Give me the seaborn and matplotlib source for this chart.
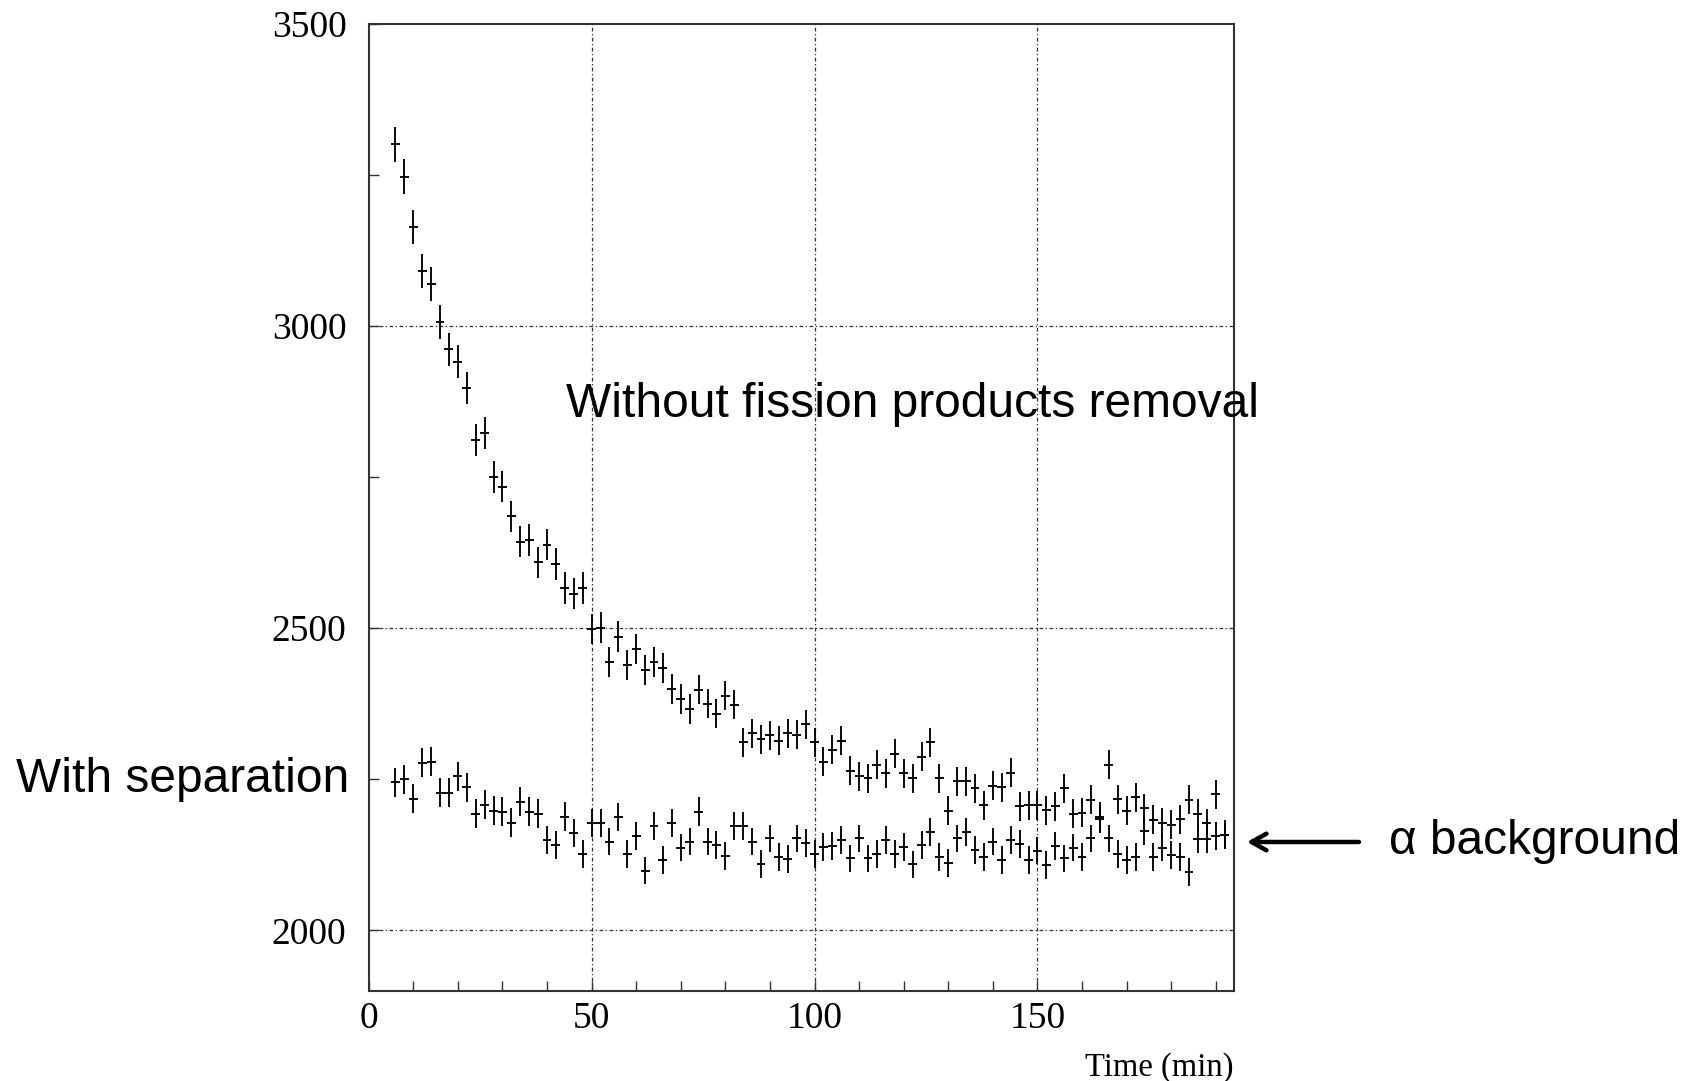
import numpy as np
import pandas as pd
import matplotlib
matplotlib.use("Agg")
import matplotlib.pyplot as plt
from matplotlib.ticker import MultipleLocator
import seaborn as sns

# bin centres (min), 2 min bins
time_min = [
    6, 8, 10, 12, 14, 16, 18, 20, 22, 24, 26, 28, 30, 32, 34, 36, 38, 40, 42, 44,
    46, 48, 50, 52, 54, 56, 58, 60, 62, 64, 66, 68, 70, 72, 74, 76, 78, 80, 82, 84,
    86, 88, 90, 92, 94, 96, 98, 100, 102, 104, 106, 108, 110, 112, 114, 116, 118, 120, 122, 124,
    126, 128, 130, 132, 134, 136, 138, 140, 142, 144, 146, 148, 150, 152, 154, 156, 158, 160, 162, 164,
    166, 168, 170, 172, 174, 176, 178, 180, 182, 184, 186, 188, 190, 192,
]

# counts without fission products removal
no_removal = [
    3300, 3247, 3163, 3091, 3069, 3007, 2961, 2941, 2897, 2811, 2823, 2750, 2734, 2685, 2643, 2646, 2609, 2638, 2606, 2566,
    2557, 2566, 2499, 2501, 2444, 2486, 2439, 2466, 2431, 2444, 2434, 2399, 2383, 2366, 2398, 2375, 2358, 2388, 2373, 2311,
    2326, 2316, 2323, 2314, 2326, 2324, 2341, 2311, 2279, 2299, 2314, 2264, 2255, 2252, 2274, 2260, 2292, 2260, 2252, 2287,
    2311, 2252, 2198, 2247, 2247, 2235, 2207, 2239, 2237, 2261, 2205, 2207, 2207, 2199, 2205, 2235, 2193, 2195, 2216, 2188,
    2274, 2217, 2198, 2220, 2202, 2183, 2178, 2175, 2184, 2216, 2193, 2177, 2225, 2158,
]
no_removal_err = [
    29, 29, 28, 28, 28, 28, 27, 27, 27, 27, 27, 26, 26, 26, 26, 26, 26, 26, 26, 26,
    26, 26, 25, 25, 25, 25, 25, 25, 25, 25, 25, 25, 25, 25, 24, 24, 24, 24, 24, 24,
    24, 24, 24, 24, 24, 24, 24, 24, 24, 24, 24, 24, 24, 24, 24, 24, 24, 24, 24, 24,
    24, 24, 24, 24, 24, 24, 24, 24, 24, 24, 24, 24, 24, 24, 24, 24, 24, 24, 24, 24,
    24, 24, 24, 24, 24, 24, 24, 24, 24, 24, 24, 24, 24, 24,
]

# counts with separation
with_sep = [
    2245, 2250, 2218, 2277, 2279, 2228, 2228, 2255, 2237, 2193, 2208, 2198, 2196, 2178, 2213, 2196, 2193, 2150, 2141, 2188,
    2161, 2127, 2178, 2178, 2147, 2188, 2127, 2156, 2099, 2173, 2117, 2178, 2137, 2147, 2196, 2147, 2141, 2123, 2173, 2173,
    2147, 2110, 2152, 2122, 2118, 2152, 2144, 2127, 2138, 2139, 2149, 2119, 2152, 2119, 2127, 2150, 2127, 2138, 2109, 2141,
    2163, 2122, 2111, 2152, 2163, 2133, 2122, 2147, 2117, 2149, 2143, 2117, 2132, 2108, 2139, 2119, 2137, 2122, 2152, 2184,
    2152, 2127, 2117, 2122, 2164, 2122, 2137, 2125, 2122, 2097, 2151, 2151, 2156, 2158,
]
with_sep_err = [
    24, 24, 24, 24, 24, 24, 24, 24, 24, 24, 24, 24, 24, 24, 24, 24, 24, 23, 23, 24,
    23, 23, 23, 23, 23, 23, 23, 23, 23, 23, 23, 23, 23, 23, 24, 23, 23, 23, 23, 23,
    23, 23, 23, 23, 23, 23, 23, 23, 23, 23, 23, 23, 23, 23, 23, 23, 23, 23, 23, 23,
    23, 23, 23, 23, 23, 23, 23, 23, 23, 23, 23, 23, 23, 23, 23, 23, 23, 23, 23, 23,
    23, 23, 23, 23, 23, 23, 23, 23, 23, 23, 23, 23, 23, 23,
]

df = pd.concat([
    pd.DataFrame({"time": time_min, "counts": no_removal, "err": no_removal_err, "run": "no_removal"}),
    pd.DataFrame({"time": time_min, "counts": with_sep, "err": with_sep_err, "run": "with_sep"}),
])

sns.set_theme(style="ticks")
plt.rcParams["font.family"] = ["Liberation Serif", "DejaVu Serif"]
plt.rcParams["text.color"] = "black"
plt.rcParams["axes.labelcolor"] = "black"
plt.rcParams["xtick.color"] = "black"
plt.rcParams["ytick.color"] = "black"

fig = plt.figure(figsize=(16.85, 10.81), dpi=100)
ax = fig.add_axes([0.2188, 0.0834, 0.5133, 0.8948])

# crosses: 2 min bin width, statistical error in y
for run, d in df.groupby("run"):
    ax.errorbar(d["time"], d["counts"], xerr=1, yerr=d["err"], fmt="none",
                ecolor="black", elinewidth=1.35, capsize=0)

ax.set_xlim(0, 194)
ax.set_ylim(1900, 3500)
ax.xaxis.set_major_locator(MultipleLocator(50))
ax.xaxis.set_minor_locator(MultipleLocator(10))
ax.yaxis.set_major_locator(MultipleLocator(500))
ax.yaxis.set_minor_locator(MultipleLocator(250))
ax.tick_params(which="both", direction="in", length=7, width=1.0, color="#333333",
               top=False, right=False)
ax.tick_params(axis="x", which="major", labelsize=27, pad=8)
ax.tick_params(axis="y", which="major", labelsize=27, pad=16)

# dash-dot grid at the labelled values
for xv in [50, 100, 150]:
    ax.axvline(xv, color="#333333", lw=0.9, ls=(0, (3, 2, 1, 2)), zorder=0)
for yv in [2000, 2500, 3000]:
    ax.axhline(yv, color="#333333", lw=0.9, ls=(0, (3, 2, 1, 2)), zorder=0)

for s in ax.spines.values():
    s.set_visible(True)
    s.set_color("#333333")
    s.set_linewidth(1.5)

fig.text(0.7321, 0.0046, "Time (min)", ha="right", va="baseline", fontsize=23.5)

sans = ["Liberation Sans", "DejaVu Sans"]
fig.text(0.3359, 0.6142, "Without fission products removal", fontsize=34.5,
         family=sans, ha="left", va="baseline")
fig.text(0.0095, 0.2673, "With separation", fontsize=34.5, family=sans,
         ha="left", va="baseline")
fig.text(0.8243, 0.21, "α background", fontsize=34.5, family=sans,
         ha="left", va="baseline")
ax.annotate("", xy=(0.740, 0.2211), xytext=(0.8065, 0.2211),
            xycoords="figure fraction", textcoords="figure fraction",
            arrowprops=dict(arrowstyle="->,head_length=0.9,head_width=0.5",
                            lw=3.2, color="black", shrinkA=0, shrinkB=0),
            annotation_clip=False)

fig.savefig("out.png", dpi=100, facecolor="white")
